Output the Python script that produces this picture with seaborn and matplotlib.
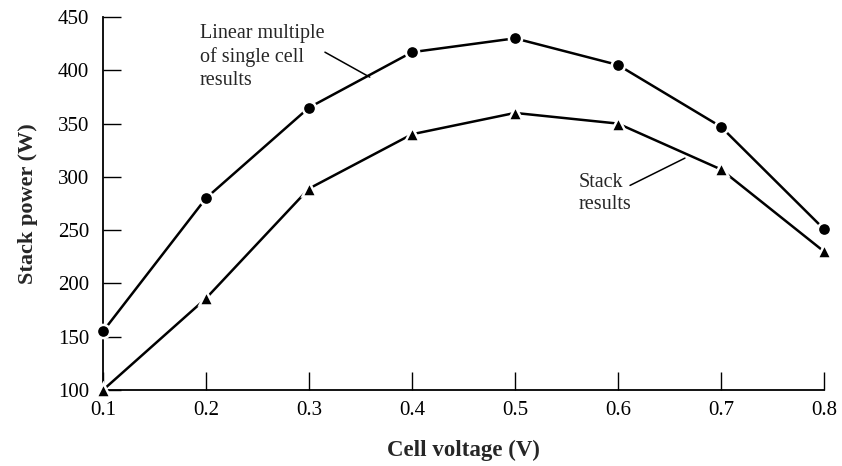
import matplotlib
matplotlib.use("Agg")
import matplotlib.pyplot as plt
import seaborn as sns
import pandas as pd

voltage = [0.1, 0.2, 0.3, 0.4, 0.5, 0.6, 0.7, 0.8]
linear_multiple = [155, 280, 365, 417, 430, 405, 347, 251]
stack_results = [100, 186, 289, 340, 360, 350, 307, 230]
x_ticks = [0.1, 0.2, 0.3, 0.4, 0.5, 0.6, 0.7, 0.8]
y_ticks = [100, 150, 200, 250, 300, 350, 400, 450]

sns.set_style("ticks")
plt.rcParams['font.family'] = ['Liberation Serif', 'DejaVu Serif']

df = pd.DataFrame({
    "voltage": voltage * 2,
    "power": linear_multiple + stack_results,
    "series": ["Linear multiple of single cell results"] * len(voltage) + ["Stack results"] * len(voltage),
})

fig = plt.figure(figsize=(8.42, 4.66), dpi=100)
ax = fig.add_axes([0.1223, 0.163, 0.8563, 0.8005])

sns.lineplot(data=df, x="voltage", y="power", style="series",
             markers={"Linear multiple of single cell results": "o", "Stack results": "^"},
             dashes=False, color="black", linewidth=1.8, ax=ax, legend=False,
             markersize=9.5, markeredgecolor="white", markeredgewidth=1.8)
for ln in ax.lines:
    if ln.get_marker() == "^":
        ln.set_markersize(9.5)
    ln.set_clip_on(False)
    ln.set_zorder(5)

ax.set_xlim(0.1, 0.8)
ax.set_ylim(100, 450)
ax.set_xticks(x_ticks)
ax.set_xticklabels([f"{v:.1f}" for v in x_ticks])
ax.set_yticks(y_ticks)
ax.set_yticklabels([str(v) for v in y_ticks])
ax.tick_params(direction="in", length=13, width=1.0, labelsize=15, colors="black")
ax.tick_params(axis="x", pad=8)
ax.tick_params(axis="y", pad=10)
for side in ["top", "right"]:
    ax.spines[side].set_visible(False)
for side in ["left", "bottom"]:
    ax.spines[side].set_linewidth(1.3)
    ax.spines[side].set_color("black")

ax.set_xlabel("Cell voltage (V)", fontsize=16.5, fontweight="bold", labelpad=14)
ax.set_ylabel("Stack power (W)", fontsize=16, fontweight="bold", labelpad=14)

ax.text(0.194, 443, "Linear multiple\nof single cell\nresults", fontsize=14.5,
        va="top", ha="left", linespacing=1.25)
ax.plot([0.3155, 0.359], [417, 393.6], color="black", linewidth=1.1)

ax.text(0.5615, 304, "Stack\nresults", fontsize=14.5,
        va="top", ha="left", linespacing=1.25)
ax.plot([0.6117, 0.665], [292, 317.6], color="black", linewidth=1.1)

fig.savefig("out.png", dpi=100)
